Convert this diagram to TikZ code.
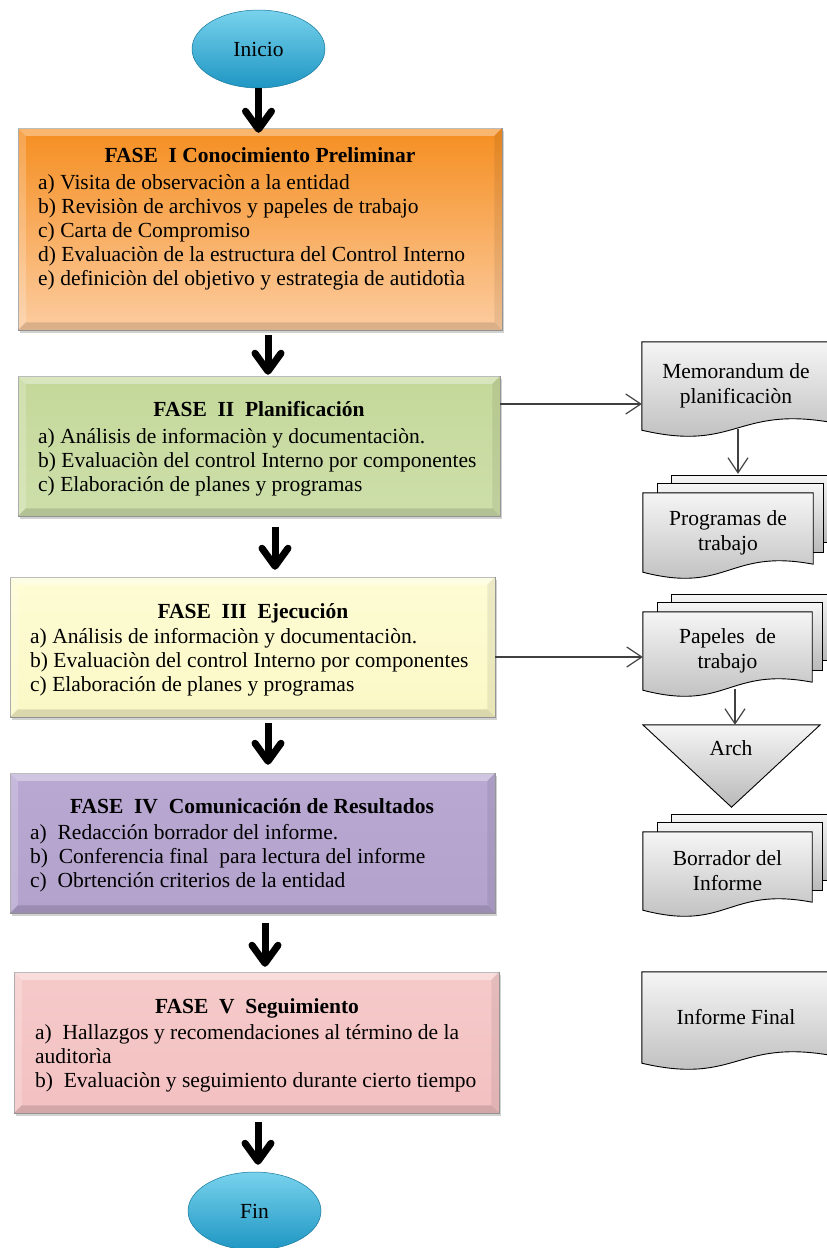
\documentclass[tikz,border=0pt]{standalone}
\usepackage{fontspec}
\setmainfont{Liberation Serif}
\usetikzlibrary{arrows.meta,shapes.geometric,shadows,calc}
\pgfdeclarelayer{bglayer}
\pgfsetlayers{bglayer,main}
\definecolor{orTop}{RGB}{245,142,32}
\definecolor{orBot}{RGB}{252,204,160}
\definecolor{grTop}{RGB}{196,216,154}
\definecolor{grBot}{RGB}{206,223,170}
\definecolor{yeTop}{RGB}{253,252,212}
\definecolor{yeBot}{RGB}{251,248,198}
\definecolor{puTop}{RGB}{184,168,210}
\definecolor{puBot}{RGB}{178,162,204}
\definecolor{piTop}{RGB}{246,202,202}
\definecolor{piBot}{RGB}{243,192,193}
\definecolor{elTop}{RGB}{120,210,236}
\definecolor{elBot}{RGB}{30,150,195}
\definecolor{docTop}{RGB}{245,245,245}
\definecolor{docBot}{RGB}{185,185,185}

\newcommand\bevel[1]{%
 \fill[white,opacity=0.35] (#1.north west) -- (#1.north east) -- ($(#1.north east)+(-8,8)$) -- ($(#1.north west)+(8,8)$) -- cycle;
 \fill[white,opacity=0.2] (#1.north west) -- ($(#1.north west)+(8,8)$) -- ($(#1.south west)+(8,-8)$) -- (#1.south west) -- cycle;
 \fill[black,opacity=0.13] (#1.south west) -- ($(#1.south west)+(8,-8)$) -- ($(#1.south east)+(-8,-8)$) -- (#1.south east) -- cycle;
 \fill[black,opacity=0.07] (#1.north east) -- (#1.south east) -- ($(#1.south east)+(-8,-8)$) -- ($(#1.north east)+(-8,8)$) -- cycle;
}
\newcommand\docshape[1]{%
 \path[docfill] (#1.north west) -- (#1.north east) -- ([yshift=8pt]#1.south east)
  .. controls ($(#1.south west)!0.5!(#1.south east)+(0,-24)$) and ($(#1.south west)!0.5!(#1.south east)+(0,22)$) .. (#1.south west) -- cycle;}
\newcommand\backpages[1]{%
 \path[docfill] ([xshift=29pt,yshift=17pt]#1.north west) rectangle ([xshift=24pt,yshift=30pt]#1.south east);
 \path[docfill] ([xshift=15pt,yshift=9pt]#1.north west) rectangle ([xshift=10pt,yshift=20pt]#1.south east);}

\tikzset{
 phasebox/.style={rectangle, inner sep=0pt, draw=black!40, line width=0.5pt, drop shadow={shadow xshift=1.5pt, shadow yshift=-3pt, opacity=0.35}},
 ttl/.style={anchor=base, inner sep=0pt, font=\fontsize{21.5}{24}\selectfont\bfseries},
 items/.style={anchor=north west, align=left, inner sep=0pt, font=\fontsize{21.5}{24}\selectfont},
 oval/.style={ellipse, minimum width=133pt, minimum height=78pt, inner sep=0pt, draw=elBot!80!black, line width=0.5pt, top color=elTop, bottom color=elBot, font=\fontsize{21.5}{24}\selectfont},
 docnode/.style={rectangle, inner sep=0pt, align=center, font=\fontsize{21.5}{25}\selectfont},
 docfill/.style={draw=black, line width=0.9pt, top color=docTop, bottom color=docBot},
 bigarrow/.style={line width=7pt, -{Straight Barb[length=18pt,width=26pt,round]}},
 thinarrow/.style={draw=black!75, line width=1.2pt, -{Straight Barb[length=15pt,width=20pt]}},
}

\begin{document}
\begin{tikzpicture}[x=1pt,y=-1pt]
\useasboundingbox (0,0) rectangle (827,1248);
\begin{pgfonlayer}{bglayer}
\fill[white] (0,0) rectangle (827,1248);
\end{pgfonlayer}

% start / end
\node[oval] (ini) at (258.5,49) {Inicio};
\node[oval] (fin) at (254.5,1211) {Fin};

% Fase I
\node[phasebox, top color=orTop, bottom color=orBot, minimum width=484pt, minimum height=202pt] (f1) at (260,229) {};
\bevel{f1}
\node[ttl] (t1) at (260,162) {FASE\ \ I Conocimiento Preliminar};
\node[items] (i1) at (38,174) {a) Visita de observaciòn a la entidad\\b) Revisiòn de archivos y papeles de trabajo\\c) Carta de Compromiso\\d) Evaluaciòn de la estructura del Control Interno\\e) definiciòn del objetivo y estrategia de autidotìa};

% Fase II
\node[phasebox, top color=grTop, bottom color=grBot, minimum width=482pt, minimum height=140pt] (f2) at (259,446) {};
\bevel{f2}
\node[ttl] (t2) at (259,416) {FASE\ \ II\ \ Planificación};
\node[items] (i2) at (38,428) {a) Análisis de informaciòn y documentaciòn.\\b) Evaluaciòn del control Interno por componentes\\c) Elaboración de planes y programas};

% Fase III
\node[phasebox, top color=yeTop, bottom color=yeBot, minimum width=485pt, minimum height=140pt] (f3) at (252.5,647) {};
\bevel{f3}
\node[ttl] (t3) at (253,618) {FASE\ \ III\ \ Ejecución};
\node[items] (i3) at (30,628) {a) Análisis de informaciòn y documentaciòn.\\b) Evaluaciòn del control Interno por componentes\\c) Elaboración de planes y programas};

% Fase IV
\node[phasebox, top color=puTop, bottom color=puBot, minimum width=485pt, minimum height=140pt] (f4) at (252.5,843) {};
\bevel{f4}
\node[ttl] (t4) at (252,813) {FASE\ \ IV\ \ Comunicación de Resultados};
\node[items] (i4) at (30,824) {a)\ \ Redacción borrador del informe.\\b)\ \ Conferencia final\ \ para lectura del informe\\c)\ \ Obrtención criterios de la entidad};

% Fase V
\node[phasebox, top color=piTop, bottom color=piBot, minimum width=485pt, minimum height=141pt] (f5) at (256.5,1042.5) {};
\bevel{f5}
\node[ttl] (t5) at (257,1013) {FASE\ \ V\ \ Seguimiento};
\node[items] (i5) at (35,1024) {a)\ \ Hallazgos y recomendaciones al término de la\\auditorìa\\b)\ \ Evaluaciòn y seguimiento durante cierto tiempo};

% main arrows
\draw[bigarrow] (ini.south) -- ($(ini.south |- f1.north)+(0,5)$);
\draw[bigarrow] ($(f1.south)+(8,5)$) -- ($(f2.north)+(9,-1)$);
\draw[bigarrow] ($(f2.south)+(16,11)$) -- ($(f3.north)+(22.5,-7)$);
\draw[bigarrow] ($(f3.south)+(15.5,6)$) -- ($(f4.north)+(15.5,-8)$);
\draw[bigarrow] ($(f4.south)+(12.5,10)$) -- ($(f5.north)+(8.5,-5)$);
\draw[bigarrow] ($(f5.south)+(1.5,9)$) -- ($(fin.north)+(3.5,-7)$);

% right side documents
\node[docnode, minimum width=188pt, minimum height=88pt] (memo) at (736,386) {Memorandum de\\planificaciòn};
\node[docnode, minimum width=170pt, minimum height=79pt] (prog) at (728,532.5) {Programas de\\trabajo};
\node[docnode, minimum width=169pt, minimum height=78pt] (pap) at (727.5,651) {Papeles\ \ de\\trabajo};
\node[inner sep=0pt, minimum width=177pt, minimum height=82pt] (arch) at (731.5,766) {};
\node[docnode] (archt) at (731,748) {Arch};
\node[docnode, minimum width=169pt, minimum height=78pt] (borr) at (727.5,871) {Borrador del\\Informe};
\node[docnode, minimum width=188pt, minimum height=91pt] (inf) at (736,1017.5) {Informe Final};

\begin{pgfonlayer}{bglayer}
\docshape{memo}
\backpages{prog}\docshape{prog}
\backpages{pap}\docshape{pap}
\path[docfill] (arch.north west) -- (arch.north east) -- (arch.south) -- cycle;
\backpages{borr}\docshape{borr}
\docshape{inf}
\end{pgfonlayer}

% side connectors
\coordinate (m2in) at ($(memo.west)+(0,18)$);
\draw[thinarrow] (f2.east |- m2in) -- (m2in);
\draw[thinarrow] ($(memo.south)+(2,-1)$) -- ($(prog.north)+(10,-19)$);
\coordinate (p3in) at ($(pap.west)+(0,6)$);
\draw[thinarrow] (f3.east |- p3in) -- (p3in);
\draw[thinarrow] ($(pap.south)+(7.5,-1)$) -- ($(arch.north)+(3.5,0)$);
\end{tikzpicture}
\end{document}
